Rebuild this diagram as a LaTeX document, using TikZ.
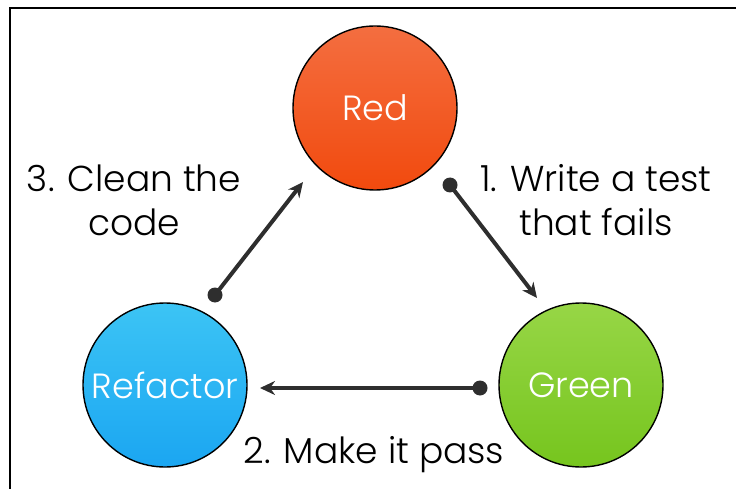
\documentclass[tikz,border=0pt]{standalone}
\usepackage{fontspec}
\setmainfont{Poppins Light}
\usetikzlibrary{arrows.meta,positioning}

\definecolor{arrowgray}{HTML}{2E2E2E}
\definecolor{redtop}{HTML}{F36E40}
\definecolor{redbot}{HTML}{F24A0E}
\definecolor{greentop}{HTML}{97D646}
\definecolor{greenbot}{HTML}{76C51E}
\definecolor{bluetop}{HTML}{3CC4F4}
\definecolor{bluebot}{HTML}{1BA6F2}

\tikzset{
  phase/.style={circle, draw=black, line width=1.4pt, minimum size=164pt,
    inner sep=0pt, text=white, font=\fontsize{35}{38}\selectfont},
  step label/.style={align=center, font=\fontsize{36}{44}\selectfont},
  flow/.style={line width=4pt, draw=arrowgray, -{Stealth[length=15pt,width=14pt]}},
  flowdot/.style={circle, fill=arrowgray, inner sep=0pt, minimum size=15pt}
}

\begin{document}
\begin{tikzpicture}[x=1pt,y=-1pt]
  \useasboundingbox (0,0) rectangle (736,489);
  % open frame, left and top edges only
  \draw[line width=1.6pt] (10,489) -- (10,8) -- (736,8);

  % the three phases
  \node[phase, top color=redtop, bottom color=redbot] (red) at (375,108) {Red};
  \node[phase, top color=greentop, bottom color=greenbot] (green) at (581,385) {Green};
  \node[phase, top color=bluetop, bottom color=bluebot] (refactor) at (165,385) {Refactor};

  % arrow end points
  \coordinate (s1) at (450,185);
  \coordinate (e1) at (537,298);
  \coordinate (s2) at (480,388);
  \coordinate (e2) at (260,388);
  \coordinate (s3) at (215,295);
  \coordinate (e3) at (303,182);

  \draw[flow] (s1) -- (e1);
  \draw[flow] (s2) -- (e2);
  \draw[flow] (s3) -- (e3);
  \node[flowdot] (d1) at (s1) {};
  \node[flowdot] (d2) at (s2) {};
  \node[flowdot] (d3) at (s3) {};

  % step labels
  \node[step label] (l1) at (596,200) {1. Write a test\\that fails};
  \node[step label] (l2) at (374,455) {2. Make it pass};
  \node[step label] (l3) at (134,200) {3. Clean the\\code};
\end{tikzpicture}
\end{document}
